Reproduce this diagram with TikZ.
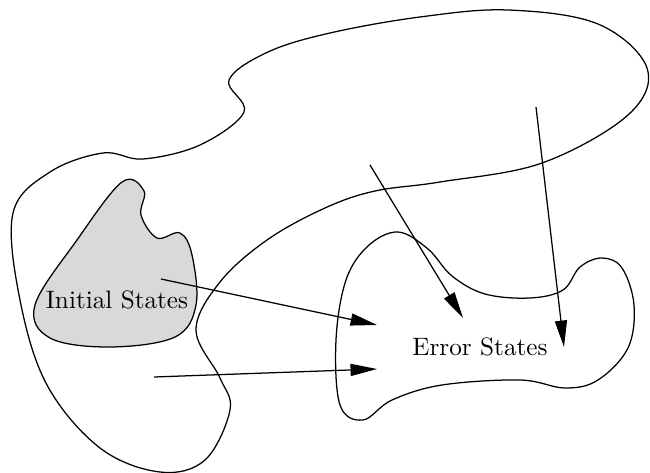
\documentclass[tikz,border=0pt]{standalone}
\usetikzlibrary{arrows.meta}

\begin{document}
\begin{tikzpicture}[
  x=0.397pt,y=-0.397pt,
  >={Triangle[length=10.5pt,width=4.8pt]},
  region/.style={draw=black,line width=0.5pt},
  init/.style={region,fill=black!15},
  trans/.style={->,line width=0.5pt},
  lbl/.style={font=\normalsize,inner sep=0pt}
]
\useasboundingbox (0,0) rectangle (650,473);

% reachable states: big blob that bends round the error region
\draw[region] plot[smooth cycle,tension=0.6] coordinates {
  (13,213) (50,172) (103,153) (143,159) (200,145) (244,112)
  (229,80) (268,52) (330,33) (420,17) (508,10) (598,24) (647,68)
  (628,115) (542,163) (440,182) (375,191) (325,208) (267,240)
  (220,282) (196,330) (220,378) (230,410) (205,460) (160,472)
  (100,448) (47,385) (20,300)};

% initial states
\draw[init] plot[smooth cycle,tension=0.6] coordinates {
  (122,182) (144,191) (141,215) (157,238) (180,233) (192,255)
  (196,305) (175,337) (110,347) (50,338) (35,305) (77,240)};
\node[lbl] (initlbl) at (117,300) {Initial States};

% error states
\draw[region] plot[smooth cycle,tension=0.6] coordinates {
  (398,232) (428,249) (452,276) (485,294) (530,298) (563,290)
  (580,267) (602,258) (622,268) (634,305) (628,348) (598,380)
  (565,388) (520,380) (442,385) (392,400) (363,420) (340,405)
  (336,340) (346,280) (368,246)};
\node[lbl] (errlbl) at (480,347) {Error States};

% transitions into the error states
\coordinate (s1) at (161,279);
\coordinate (t1) at (377,325);
\coordinate (s2) at (154,377);
\coordinate (t2) at (377,369);
\coordinate (s3) at (370,165);
\coordinate (t3) at (463,318);
\coordinate (s4) at (536,107);
\coordinate (t4) at (564,347);
\draw[trans] (s1) -- (t1);
\draw[trans] (s2) -- (t2);
\draw[trans] (s3) -- (t3);
\draw[trans] (s4) -- (t4);
\end{tikzpicture}
\end{document}
